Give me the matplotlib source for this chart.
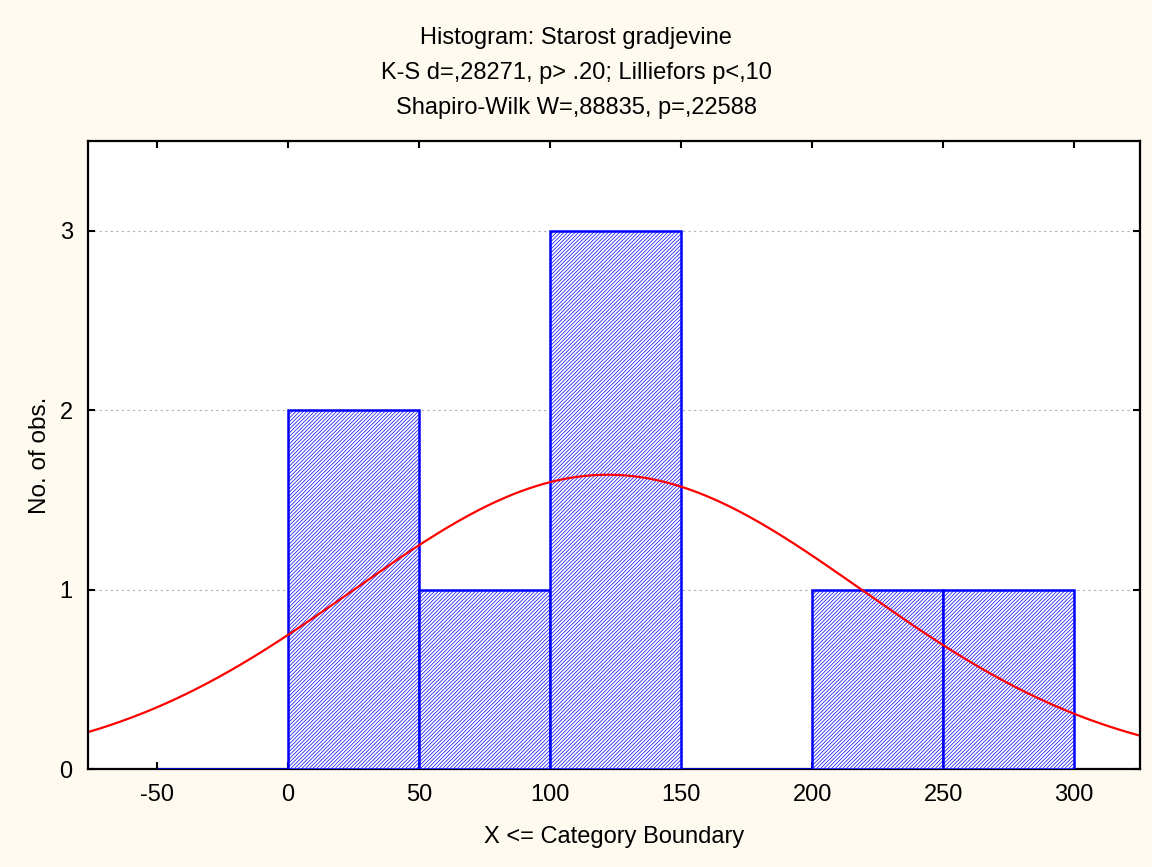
import numpy as np
import matplotlib
matplotlib.use('Agg')
import matplotlib.pyplot as plt

plt.rcParams['font.family'] = ['Liberation Sans', 'DejaVu Sans']
plt.rcParams['hatch.linewidth'] = 0.5
plt.rcParams['axes.unicode_minus'] = False

# histogram data (category boundaries, counts)
bin_left = [-50, 0, 50, 100, 150, 200, 250]
counts = [0, 2, 1, 3, 0, 1, 1]
bin_width = 50
n_obs = 8
# fitted normal
mean = 122.0
sd = 97.3

title_lines = ['Histogram: Starost gradjevine',
               'K-S d=,28271, p> .20; Lilliefors p<,10',
               'Shapiro-Wilk W=,88835, p=,22588']
x_ticks = [-50, 0, 50, 100, 150, 200, 250, 300]
y_ticks = [0, 1, 2, 3]

bg = '#fefaf0'
fig = plt.figure(figsize=(11.52, 8.67), dpi=100, facecolor=bg)
ax = fig.add_axes([88/1152, 1-769/867, (1140-88)/1152, (769-141)/867])
ax.set_facecolor('white')

ax.bar(bin_left, counts, width=bin_width, align='edge', facecolor='white',
       edgecolor='#0000ff', hatch='/////////', linewidth=1.8, zorder=2)

xs = np.linspace(-80, 330, 400)
curve = n_obs * bin_width * np.exp(-(xs - mean)**2 / (2 * sd**2)) / (sd * np.sqrt(2 * np.pi))
ax.plot(xs, curve, color='#ff0000', lw=1.6, zorder=3)

ax.set_xlim(-76.3, 325.1)
ax.set_ylim(0, 3.5)
ax.set_xticks(x_ticks)
ax.set_yticks(y_ticks)
ax.grid(axis='y', color='#b0b0b0', linestyle=(0, (2, 3)), lw=0.8, zorder=1)
ax.tick_params(direction='in', length=5, width=1.5, top=True, right=True,
               labelsize=17, pad=11)
for s in ax.spines.values():
    s.set_linewidth(1.6)
    s.set_zorder(4)
ax.spines['bottom'].set_zorder(1.5)

ax.set_xlabel('X <= Category Boundary', fontsize=17, labelpad=14)
ax.set_ylabel('No. of obs.', fontsize=17.5, labelpad=6)

for i, t in enumerate(title_lines):
    fig.text(0.5, 1 - (38 + 35 * i) / 867, t, ha='center', va='center', fontsize=17)

fig.savefig('out.png', dpi=100, facecolor=bg)
